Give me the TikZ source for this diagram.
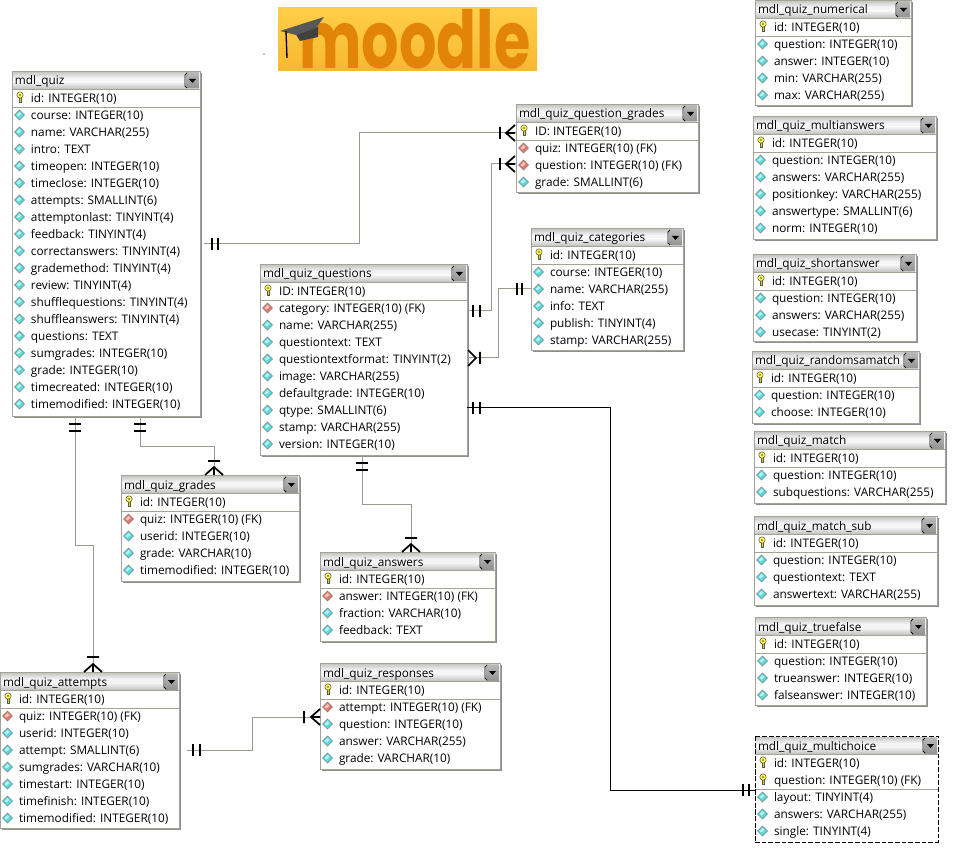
\documentclass[tikz,border=0pt]{standalone}
\usepackage{fontspec}
\setmainfont{Open Sans}
\newfontfamily\logofont{Poppins}[BoldFont={Poppins Bold}]
\usetikzlibrary{calc}
\definecolor{edge}{HTML}{A3A399}
\definecolor{shade}{HTML}{8E8E8E}
\definecolor{conn}{HTML}{9A9A8E}
\definecolor{diacyan}{HTML}{55DDDD}
\definecolor{diared}{HTML}{E87868}
\tikzset{
 x=0.75pt,y=-0.75pt,
 tblbox/.style={draw=edge,line width=0.7pt,fill=white,inner sep=0pt,outer sep=0pt},
 tblboxshadow/.style={fill=shade},
 dashbox/.style={draw=black,densely dashed,line width=0.6pt,fill=white,inner sep=0pt,outer sep=0pt},
 dashboxshadow/.style={},
 rowtext/.style={anchor=base west,inner sep=0pt,outer sep=0pt,font=\fontsize{8.85}{10}\selectfont,text=black},
 connector/.style={draw=conn,line width=0.75pt},
 blackconn/.style={draw=black,line width=0.75pt},
 tick/.style={draw=black,line width=1.3pt},
}
\newcommand\iconk[2]{%
 \fill[black!65] (#1-1,#2-1) rectangle (#1+2,#2+5);
 \fill[yellow!75!olive] (#1,#2-1) rectangle (#1+1,#2+4);
 \filldraw[draw=black!65,fill=yellow!70!white,line width=0.4pt] (#1+0.5,#2-3) circle[radius=3.2];
 \fill[black!70] (#1+0.5,#2-3) circle[radius=0.9];
}
\newcommand\icondia[3]{%
 \filldraw[fill=#3,draw=black!50,line width=0.45pt] (#1-5,#2)--(#1,#2-5)--(#1+5,#2)--(#1,#2+5)--cycle;
 \fill[white,opacity=.6] (#1-3,#2)--(#1,#2-3)--(#1+2,#2-1)--(#1-1,#2+1.5)--cycle;
}
\newcommand\iconf[2]{\icondia{#1}{#2}{diared}}
\newcommand\icona[2]{\icondia{#1}{#2}{diacyan}}
% \erbox[style]{id}{l}{t}{r}{b}{nkeys}{title}{rows}
\newcommand\erbox[9][tblbox]{%
 \path[#1shadow] (#3+2,#4+2) rectangle (#5+2,#6+2);
 \pgfmathsetmacro\cx{(#3+#5)/2}\pgfmathsetmacro\cy{(#4+#6)/2}
 \pgfmathsetmacro\bw{(#5-#3)*0.75}\pgfmathsetmacro\bh{(#6-#4)*0.75}
 \node[#1,minimum width=\bw pt,minimum height=\bh pt] (#2) at (\cx,\cy) {};
 \fill[black!4] (#3+1,#4+1) rectangle (#5-1,#4+18);
 \shade[top color=black!22,bottom color=black!4] (#3+1,#4+1) rectangle (#5-1,#4+7);
 \shade[top color=black!4,bottom color=black!25] (#3+1,#4+11) rectangle (#5-1,#4+18);
 \draw[edge,line width=0.6pt] (#3,#4+18) -- (#5,#4+18);
 % drop-down button
 \shade[top color=black!28,bottom color=black!42] (#5-14,#4+2) rectangle (#5-1,#4+17);
 \draw[black,line width=0.55pt] (#5-13,#4+2) -- (#5-15,#4+4) -- (#5-15,#4+15) -- (#5-13,#4+17);
 \fill[black] (#5-11,#4+8) -- (#5-4,#4+8) -- (#5-7.5,#4+12) -- cycle;
 \node[rowtext] (#2-title) at (#3+3,#4+14) {#8};
 \pgfmathsetmacro\sepy{#4+18+17*#7+1}
 \draw[edge,line width=0.6pt] (#3,\sepy) -- (#5,\sepy);
 \foreach[count=\ii] \rk/\rt in {#9}{
  \pgfmathsetmacro\ry{#4+27+17*(\ii-1)}
  \csname icon\rk\endcsname{#3+7.5}{\ry}
  \node[rowtext] (#2-\ii) at (#3+19,\ry+4.5) {\rt};
 }
 \draw[#1,fill=none] (#3,#4) rectangle (#5,#6);
}
% relationship marks, at (x,y) with the line along the named direction
\newcommand\barsH[3]{\draw[tick] (#1,#3-6) -- (#1,#3+6) (#2,#3-6) -- (#2,#3+6);}
\newcommand\barsV[3]{\draw[tick] (#3-6,#1) -- (#3+6,#1) (#3-6,#2) -- (#3+6,#2);}
% crow foot opening towards a table on the right
\newcommand\crowR[3]{\draw[tick] (#1,#3-6) -- (#1,#3+6) (#2,#3-8) -- (#2-9,#3) -- (#2,#3+8) (#2-9,#3) -- (#2,#3);}
% crow foot opening towards a table below
\newcommand\crowD[3]{\draw[tick] (#3-6,#1) -- (#3+6,#1) (#3-9,#2) -- (#3,#2-8) -- (#3+9,#2) (#3,#2-8) -- (#3,#2);}
% crow foot opening towards a table on the left
\newcommand\crowL[3]{\draw[tick] (#1,#3-6) -- (#1,#3+6) (#2,#3-8) -- (#2+8,#3) -- (#2,#3+8);}
\begin{document}
\begin{tikzpicture}
\useasboundingbox[fill=white] (0,0) rectangle (961,852);

% logo
\node[inner sep=0pt,outer sep=0pt,minimum width=194.25pt,minimum height=47.25pt,fill=yellow!70!orange] (logo) at (407.5,39.5) {};
\shade[top color={rgb,255:red,255;green,206;blue,72},bottom color={rgb,255:red,248;green,184;blue,48}] (278,8) rectangle (537,71);
\node[inner sep=0pt,text={rgb,255:red,226;green,132;blue,8},xscale=.92,yscale=1.25,font=\logofont\bfseries\fontsize{48}{48}\selectfont] (logotext) at (415,39) {moodle};
\fill[black!75] (295,33)--(318,27)--(318,37)--(300,41)--cycle;
\fill[black!65] (280,31)--(324,17)--(316,28)--(296,35)--cycle;
\draw[black,line width=1pt] (286,31)--(287,58);
\fill[black] (264,54) circle[radius=.6];

\erbox{quiz}{12}{71}{200}{416}{1}{mdl\_quiz}{k/id: INTEGER(10),a/course: INTEGER(10),a/name: VARCHAR(255),a/intro: TEXT,a/timeopen: INTEGER(10),a/timeclose: INTEGER(10),a/attempts: SMALLINT(6),a/attemptonlast: TINYINT(4),a/feedback: TINYINT(4),a/correctanswers: TINYINT(4),a/grademethod: TINYINT(4),a/review: TINYINT(4),a/shufflequestions: TINYINT(4),a/shuffleanswers: TINYINT(4),a/questions: TEXT,a/sumgrades: INTEGER(10),a/grade: INTEGER(10),a/timecreated: INTEGER(10),a/timemodified: INTEGER(10)}
\erbox{qgrades}{516}{104}{698}{192}{1}{mdl\_quiz\_question\_grades}{k/ID: INTEGER(10),f/quiz: INTEGER(10) (FK),f/question: INTEGER(10) (FK),a/grade: SMALLINT(6)}
\erbox{categories}{531}{228}{683}{350}{1}{mdl\_quiz\_categories}{k/id: INTEGER(10),a/course: INTEGER(10),a/name: VARCHAR(255),a/info: TEXT,a/publish: TINYINT(4),a/stamp: VARCHAR(255)}
\erbox{questions}{260}{264}{467}{455}{1}{mdl\_quiz\_questions}{k/ID: INTEGER(10),f/category: INTEGER(10) (FK),a/name: VARCHAR(255),a/questiontext: TEXT,a/questiontextformat: TINYINT(2),a/image: VARCHAR(255),a/defaultgrade: INTEGER(10),a/qtype: SMALLINT(6),a/stamp: VARCHAR(255),a/version: INTEGER(10)}
\erbox{grades}{121}{475}{299}{581}{1}{mdl\_quiz\_grades}{k/id: INTEGER(10),f/quiz: INTEGER(10) (FK),a/userid: INTEGER(10),a/grade: VARCHAR(10),a/timemodified: INTEGER(10)}
\erbox{answers}{320}{552}{495}{641}{1}{mdl\_quiz\_answers}{k/id: INTEGER(10),f/answer: INTEGER(10) (FK),a/fraction: VARCHAR(10),a/feedback: TEXT}
\erbox{attempts}{0}{672}{179}{828}{1}{mdl\_quiz\_attempts}{k/id: INTEGER(10),f/quiz: INTEGER(10) (FK),a/userid: INTEGER(10),a/attempt: SMALLINT(6),a/sumgrades: VARCHAR(10),a/timestart: INTEGER(10),a/timefinish: INTEGER(10),a/timemodified: INTEGER(10)}
\erbox{responses}{320}{663}{500}{769}{1}{mdl\_quiz\_responses}{k/id: INTEGER(10),f/attempt: INTEGER(10) (FK),a/question: INTEGER(10),a/answer: VARCHAR(255),a/grade: VARCHAR(10)}
\erbox{numerical}{755}{0}{911}{105}{1}{mdl\_quiz\_numerical}{k/id: INTEGER(10),a/question: INTEGER(10),a/answer: INTEGER(10),a/min: VARCHAR(255),a/max: VARCHAR(255)}
\erbox{multianswers}{753}{116}{936}{239}{1}{mdl\_quiz\_multianswers}{k/id: INTEGER(10),a/question: INTEGER(10),a/answers: VARCHAR(255),a/positionkey: VARCHAR(255),a/answertype: SMALLINT(6),a/norm: INTEGER(10)}
\erbox{shortanswer}{753}{254}{916}{341}{1}{mdl\_quiz\_shortanswer}{k/id: INTEGER(10),a/question: INTEGER(10),a/answers: VARCHAR(255),a/usecase: TINYINT(2)}
\erbox{randomsamatch}{752}{351}{919}{423}{1}{mdl\_quiz\_randomsamatch}{k/id: INTEGER(10),a/question: INTEGER(10),a/choose: INTEGER(10)}
\erbox{match}{754}{431}{945}{503}{1}{mdl\_quiz\_match}{k/id: INTEGER(10),a/question: INTEGER(10),a/subquestions: VARCHAR(255)}
\erbox{matchsub}{754}{516}{937}{605}{1}{mdl\_quiz\_match\_sub}{k/id: INTEGER(10),a/question: INTEGER(10),a/questiontext: TEXT,a/answertext: VARCHAR(255)}
\erbox{truefalse}{755}{617}{926}{705}{1}{mdl\_quiz\_truefalse}{k/id: INTEGER(10),a/question: INTEGER(10),a/trueanswer: INTEGER(10),a/falseanswer: INTEGER(10)}
\erbox[dashbox]{multichoice}{755}{736}{938}{842}{2}{mdl\_quiz\_multichoice}{k/id: INTEGER(10),k/question: INTEGER(10) (FK),a/layout: TINYINT(4),a/answers: VARCHAR(255),a/single: TINYINT(4)}

% connectors
\draw[connector,shorten <=3pt] (quiz.east |- 0,244) -- (359,244) -- (359,133) -- (qgrades.west |- 0,133);
\draw[connector] (questions.east |- 0,311) -- (491,311) -- (491,164) -- (qgrades.west |- 0,164);
\draw[connector] (categories.west |- 0,289) -- (498,289) -- (498,358) -- (questions.east |- 0,358);
\draw[connector] (quiz.south -| 140,0) -- (140,446) -- (214,446) -- (grades.north -| 214,0);
\draw[connector] (quiz.south -| 75,0) -- (75,545) -- (93,545) -- (attempts.north -| 93,0);
\draw[connector] (questions.south -| 362,0) -- (362,504) -- (411,504) -- (answers.north -| 411,0);
\draw[connector,shorten <=6pt] (attempts.east |- 0,750) -- (252,750) -- (252,717) -- (responses.west |- 0,717);
\draw[blackconn] (questions.east |- 0,408) -- (610,408) -- (610,790) -- (multichoice.west |- 0,790);

% relationship marks
\barsH{212}{218}{244}
\crowR{500}{515}{133}
\barsH{473}{480}{311}
\crowR{500}{515}{164}
\barsH{517}{522}{289}
\crowL{480}{468}{358}
\barsV{424}{431}{140}
\crowD{461}{475}{214}
\barsV{424}{431}{75}
\crowD{657}{672}{93}
\barsV{463}{470}{362}
\crowD{538}{552}{411}
\barsH{193}{200}{750}
\crowR{304}{320}{717}
\barsH{473}{480}{408}
\barsH{743}{749}{790}
\end{tikzpicture}
\end{document}
